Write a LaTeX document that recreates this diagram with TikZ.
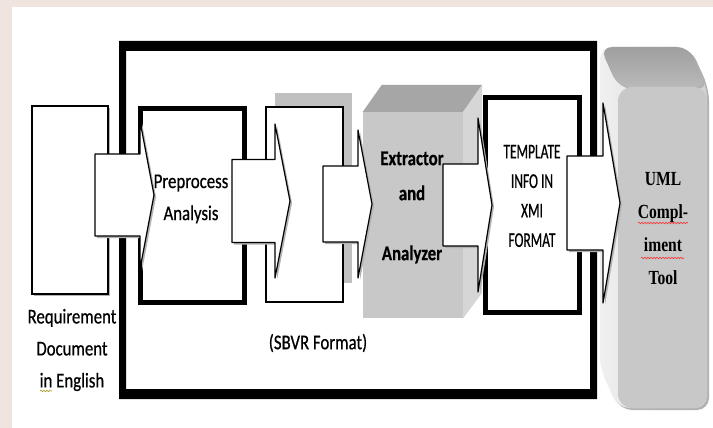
\documentclass[tikz,border=0pt]{standalone}
\usepackage{fontspec}
\setmainfont{Carlito}[FakeStretch=0.8, FakeBold=0.6]
\newfontfamily\tplfont{Carlito}[FakeStretch=0.64, FakeBold=0.6]
\newfontfamily\umlfont{Liberation Serif}[FakeStretch=0.78]
\usetikzlibrary{calc,shadows,decorations.pathmorphing}

\definecolor{bgpink}{RGB}{240,228,222}
\definecolor{facegray}{RGB}{200,200,200}
\definecolor{topgray}{RGB}{166,166,166}
\definecolor{sidegray}{RGB}{214,214,214}
\definecolor{backgray}{RGB}{192,192,192}

% flèche bloc : queue, pointe, demi-corps, demi-tête, longueur tête
\newcommand{\blockarrow}[5]{%
  \draw[barrow] let \p1=(#1), \p2=(#2) in
    (\x1,\y1+#3) -- (\x2-#5,\y1+#3) -- (\x2-#5,\y1+#4) -- (\x2,\y1)
    -- (\x2-#5,\y1-#4) -- (\x2-#5,\y1-#3) -- (\x1,\y1-#3) -- cycle;}

\begin{document}
\begin{tikzpicture}[
    x=1pt, y=-1pt,
    shade/.style={drop shadow={shadow xshift=2pt, shadow yshift=-2pt,
                  fill=black!30, opacity=1}},
    thinbox/.style={draw, fill=white, line width=1.2pt, inner sep=0pt},
    boldbox/.style={draw, fill=white, line width=5pt, inner sep=0pt},
    barrow/.style={draw, fill=white, line width=1.2pt, line join=round, shade},
    lbl/.style={align=center, inner sep=0pt,
                font=\fontsize{21}{32}\selectfont},
    squig/.style={decorate, decoration={snake, amplitude=0.8pt,
                  segment length=3pt}, line width=0.6pt}
]
\useasboundingbox (0,0) rectangle (713,428);
\fill[bgpink] (0,0) rectangle (713,428);
\fill[white] (12,7) rectangle (713,428);

% Cadre
\fill[even odd rule] (119,41) rectangle (597,399) (126,51) rectangle (590,389);

% Etapes
\node[thinbox, shade, minimum width=76pt, minimum height=188pt]
  (req) at (70,200) {};
\node[boldbox, shade, minimum width=104pt, minimum height=194pt]
  (pre) at (192.5,205.5) {};
\fill[backgray] (275,93) rectangle (352,283);
\node[thinbox, minimum width=77pt, minimum height=195pt]
  (sbvr) at (304.5,204.5) {};

% Extracteur (cube)
\node[fill=facegray, inner sep=0pt, minimum width=100pt, minimum height=206pt]
  (ext) at (413,215) {};
\fill[topgray] (ext.north west) -- ++(19,-27) -- ([shift={(19,-27)}]ext.north east)
  -- (ext.north east) -- cycle;
\fill[sidegray] (ext.north east) -- ++(19,-27) -- ++(0,208) -- (ext.south east) -- cycle;

\node[boldbox, shade, minimum width=94.5pt, minimum height=215pt]
  (tpl) at (532.25,205) {};

% Outil UML
\shade[left color=gray!12, right color=gray!35, rounded corners=12pt]
  (600,47) -- (689,47) -- (707,87) -- (707,408) -- (618,408) -- (600,368) -- cycle;
\shade[top color=gray!75, bottom color=gray!55, rounded corners=12pt]
  (600,47) -- (689,47) -- (707,87) -- (618,87) -- cycle;
\node[fill=facegray, rounded corners=14pt, inner sep=0pt,
      minimum width=89pt, minimum height=321pt] (uml) at (662.5,247.5) {};

% Fleches
\coordinate (a1t) at (95,195);   \coordinate (a1h) at (154,195);
\coordinate (a2t) at (232,201);  \coordinate (a2h) at (290,201);
\coordinate (a3t) at (323,204);  \coordinate (a3h) at (372,204);
\coordinate (a4t) at (443,205);  \coordinate (a4h) at (492,205);
\coordinate (a5t) at (567,203);  \coordinate (a5h) at (620,203);
\blockarrow{a1t}{a1h}{41}{74}{14}
\blockarrow{a2t}{a2h}{41.5}{77}{15}
\blockarrow{a3t}{a3h}{38}{74}{14}
\blockarrow{a4t}{a4h}{41}{87}{14}
\blockarrow{a5t}{a5h}{47}{100}{17}

% Textes
\node[lbl] (reqtxt) at (72,350) {Requirement\\Document\\in English};
\node[lbl] (pretxt) at (191,199) {Preprocess\\Analysis};
\node[lbl] (sbvrtxt) at (318,343) {(SBVR Format)};
\node[lbl, font=\fontsize{21}{35}\selectfont\bfseries]
  (exttxt) at (412,207.5) {Extractor\\and\\[25pt]Analyzer};
\node[lbl, font=\fontsize{21}{29.5}\selectfont\tplfont]
  (tpltxt) at (532,196) {TEMPLATE\\INFO IN\\XMI\\FORMAT};
\node[lbl, font=\fontsize{20}{33}\selectfont\umlfont\bfseries]
  (umltxt) at (663,229) {UML\\Compl-\\iment\\Tool};

% soulignements
\draw[squig, red!80] (638,223) -- (688,223);
\draw[squig, red!80] (641,258) -- (684,258);
\draw[squig, olive!80] (40,391) -- (52,391);
\end{tikzpicture}
\end{document}
